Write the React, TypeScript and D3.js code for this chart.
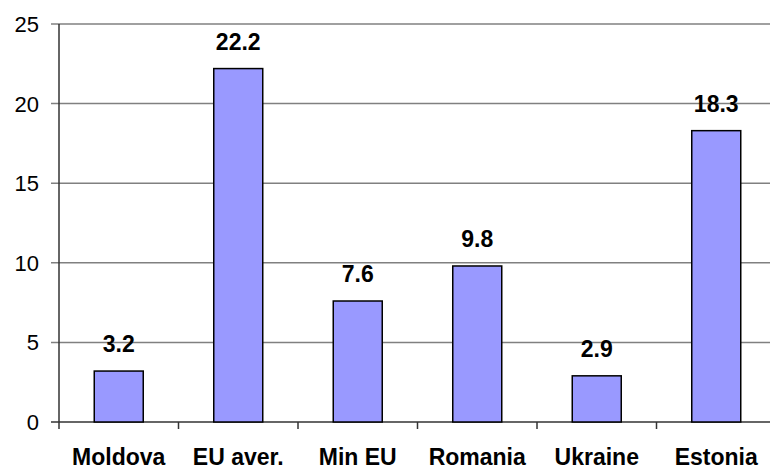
import React from "react";
import * as d3 from "d3";

const categories = ["Moldova", "EU aver.", "Min EU", "Romania", "Ukraine", "Estonia"];
const values = [3.2, 22.2, 7.6, 9.8, 2.9, 18.3];
const valueLabels = ["3.2", "22.2", "7.6", "9.8", "2.9", "18.3"];
const yTicks = [0, 5, 10, 15, 20, 25];

export default function App() {
  const W = 770, H = 470;
  const left = 59, right = 776, top = 24, bottom = 422;
  const x = d3.scaleBand<string>().domain(categories).range([left, right]).paddingInner(0.59).paddingOuter(0.295);
  const y = d3.scaleLinear().domain([0, 25]).range([bottom, top]);
  const step = x.step();
  const font = "Liberation Sans, Arial, sans-serif";
  return (
    <svg width={W} height={H} style={{ position: "absolute", left: 0, top: 0, background: "#fff" }}>
      <g>
        {yTicks.map((t) => (
          <g key={t}>
            <line x1={51} x2={right} y1={y(t)} y2={y(t)} stroke={t === 0 ? "#333" : "#808080"} strokeWidth={1.5} />
            <text x={39} y={y(t) + 8} textAnchor="end" fontFamily={font} fontSize={22} fill="#000">{t}</text>
          </g>
        ))}
        {categories.map((c, i) => (
          <line key={"t" + c} x1={left + step * (i + 1)} x2={left + step * (i + 1)} y1={bottom} y2={bottom + 7} stroke="#333" strokeWidth={1.5} />
        ))}
        <line x1={left} x2={left} y1={top} y2={bottom + 7} stroke="#333" strokeWidth={1.5} />
        {categories.map((c, i) => (
          <g key={c}>
            <rect x={x(c)!} y={y(values[i])} width={x.bandwidth()} height={bottom - y(values[i])} fill="#9999FF" stroke="#000" strokeWidth={1.5} />
            <text x={x(c)! + x.bandwidth() / 2} y={y(values[i]) - 19} textAnchor="middle" fontFamily={font} fontWeight="bold" fontSize={23} fill="#000">{valueLabels[i]}</text>
            <text x={x(c)! + x.bandwidth() / 2} y={465} textAnchor="middle" fontFamily={font} fontWeight="bold" fontSize={23} fill="#000">{c}</text>
          </g>
        ))}
      </g>
    </svg>
  );
}
